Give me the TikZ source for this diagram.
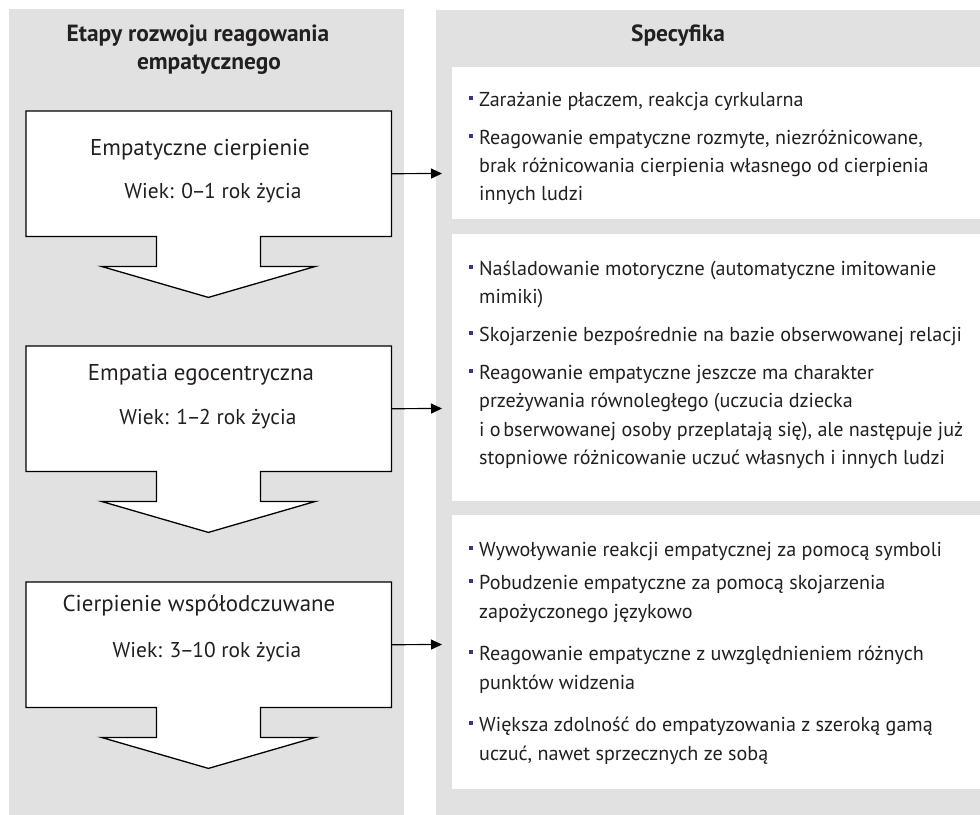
\documentclass[tikz,border=0pt]{standalone}
\usepackage{fontspec}
\setmainfont{PT Sans}
\usetikzlibrary{arrows.meta}

\definecolor{panelgray}{RGB}{225,225,225}
\definecolor{inkblack}{RGB}{35,31,32}
\definecolor{bulletblue}{RGB}{62,48,142}

\tikzset{
  ttl/.style={anchor=base, inner sep=0pt, text=inkblack,
    font=\fontsize{23.5}{27}\selectfont\bfseries},
  ltext/.style={anchor=base, inner sep=0pt, text=inkblack,
    font=\fontsize{23}{27}\selectfont},
  agetext/.style={anchor=base, inner sep=0pt, text=inkblack,
    font=\fontsize{21.5}{26}\selectfont},
  rtext/.style={anchor=base west, inner sep=0pt, text=inkblack,
    font=\fontsize{20.2}{24}\selectfont},
  blt/.style={fill=bulletblue, minimum size=3.6bp, inner sep=0pt, anchor=center},
  stagearea/.style={inner sep=0pt, minimum width=365bp, minimum height=125bp,
    anchor=north west},
  stage/.style={draw=black, line width=1.3bp, fill=white, line join=miter},
  link/.style={draw=black, line width=1.2bp, -{Triangle[length=11bp,width=10bp]}},
}

% tight en dash for age ranges
\newcommand\agedash{\kern-1.5bp–\kern-1.5bp}

% outline of one stage: box with a broad downward arrow below it
\newcommand\stageshape[1]{%
  \draw[stage] (#1.north west) -| (#1.south east) -- ++(-131,0) -- ++(0,30)
    -- ++(55,0) -- ++(-107,31) -- ++(-107,-31) -- ++(55,0) -- ++(0,-30)
    -- (#1.south west) -- cycle;}

\begin{document}
\begin{tikzpicture}[x=1bp,y=-1bp]
\useasboundingbox[fill=white] (0,0) rectangle (980,815);

% background panels
\fill[panelgray] (8.5,9.5) rectangle (404,815);
\fill[panelgray] (436,10) rectangle (980,815);
\fill[white] (452,67) rectangle (980,219);
\fill[white] (452,234) rectangle (980,501);
\fill[white] (452,515) rectangle (980,789);

% column headings
\node[ttl] (h1) at (198,42) {Etapy rozwoju reagowania};
\node[ttl] (h2) at (209,70) {empatycznego};
\node[ttl] (h3) at (678,42) {Specyfika};

% stages
\node[stagearea] (s1) at (26,111) {};
\node[stagearea] (s2) at (26,346) {};
\node[stagearea] (s3) at (26,582) {};
\stageshape{s1}
\stageshape{s2}
\stageshape{s3}

\node[ltext] (s1a) at (200,155) {Empatyczne cierpienie};
\node[agetext] (s1b) at (213,198) {Wiek: 0\agedash1 rok życia};
\node[ltext] (s2a) at (201,380) {Empatia egocentryczna};
\node[agetext] (s2b) at (208,424) {Wiek: 1\agedash2 rok życia};
\node[ltext] (s3a) at (199,611) {Cierpienie współodczuwane};
\node[agetext] (s3b) at (207,657) {Wiek: 3\agedash10 rok życia};

% connectors to the description column
\coordinate (e1) at (442,173.5);
\coordinate (e2) at (442,408.5);
\coordinate (e3) at (442,644.5);
\draw[link] (s1.east) -- (e1);
\draw[link] (s2.east) -- (e2);
\draw[link] (s3.east) -- (e3);

% first description block
\node[blt] (b11) at (471,98) {};
\node[rtext] (t11) at (479,106) {Zarażanie płaczem, reakcja cyrkularna};
\node[blt] (b12) at (471,136) {};
\node[rtext] (t12) at (479,144) {Reagowanie empatyczne rozmyte, niezróżnicowane,};
\node[rtext] (t13) at (479,172) {brak różnicowania cierpienia własnego od cierpienia};
\node[rtext] (t14) at (479,200) {innych ludzi};

% second description block
\node[blt] (b21) at (471,267) {};
\node[rtext] (t21) at (479,275) {Naśladowanie motoryczne (automatyczne imitowanie};
\node[rtext] (t22) at (479,303) {mimiki)};
\node[blt] (b22) at (471,333) {};
\node[rtext] (t23) at (479,341) {Skojarzenie bezpośrednie na bazie obserwowanej relacji};
\node[blt] (b23) at (471,371) {};
\node[rtext] (t24) at (479,379) {Reagowanie empatyczne jeszcze ma charakter};
\node[rtext] (t25) at (479,407) {przeżywania równoległego (uczucia dziecka};
\node[rtext] (t26) at (479,436) {i o\hspace{2.5bp}bserwowanej osoby przeplatają się), ale następuje już};
\node[rtext] (t27) at (479,464) {stopniowe różnicowanie uczuć własnych i innych ludzi};

% third description block
\node[blt] (b31) at (471,548) {};
\node[rtext] (t31) at (479,556) {Wywoływanie reakcji empatycznej za pomocą symboli};
\node[blt] (b32) at (471,581) {};
\node[rtext] (t32) at (479,589) {Pobudzenie empatyczne za pomocą skojarzenia};
\node[rtext] (t33) at (479,618) {zapożyczonego językowo};
\node[blt] (b33) at (471,652) {};
\node[rtext] (t34) at (479,660) {Reagowanie empatyczne z uwzględnieniem różnych};
\node[rtext] (t35) at (479,689) {punktów widzenia};
\node[blt] (b34) at (471,723) {};
\node[rtext] (t36) at (479,731) {Większa zdolność do empatyzowania z szeroką gamą};
\node[rtext] (t37) at (479,760) {uczuć, nawet sprzecznych ze sobą};
\end{tikzpicture}
\end{document}
